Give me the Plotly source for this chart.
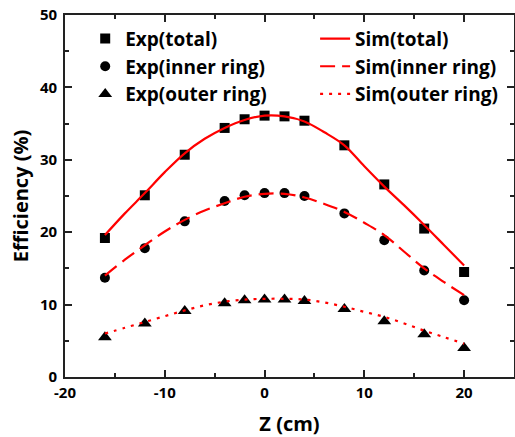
import plotly.graph_objects as go

# Data
z_exp = [-16, -12, -8, -4, -2, 0, 2, 4, 8, 12, 16, 20]
exp_total = [19.2, 25.1, 30.7, 34.4, 35.6, 36.1, 36.0, 35.4, 32.0, 26.6, 20.5, 14.5]
exp_inner = [13.7, 17.8, 21.5, 24.3, 25.1, 25.4, 25.4, 25.0, 22.6, 18.9, 14.7, 10.6]
exp_outer = [5.5, 7.4, 9.1, 10.2, 10.6, 10.7, 10.7, 10.5, 9.4, 7.7, 5.9, 4.0]

z_sim = [-16, -14, -12, -10, -8, -6, -4, -2, 0, 2, 4, 6, 8, 10, 12, 14, 16, 18, 20]
sim_total = [19.6, 22.6, 25.4, 28.3, 30.9, 32.9, 34.4, 35.5, 36.1, 36.0, 35.3, 33.8, 32.0, 29.1, 26.3, 23.7, 21.0, 18.2, 15.4]
sim_inner = [14.0, 16.2, 18.2, 20.1, 21.7, 23.0, 24.0, 24.9, 25.3, 25.3, 24.8, 23.9, 22.8, 21.3, 19.6, 17.3, 15.0, 13.1, 11.3]
sim_outer = [6.0, 6.8, 7.6, 8.4, 9.2, 9.9, 10.4, 10.7, 10.8, 10.8, 10.7, 10.3, 9.7, 9.0, 8.3, 7.4, 6.4, 5.5, 4.6]

names_exp = ["Exp(total)", "Exp(inner ring)", "Exp(outer ring)"]
names_sim = ["Sim(total)", "Sim(inner ring)", "Sim(outer ring)"]

x_tickvals = [-20, -10, 0, 10, 20]
x_ticktext = ["-20", "-10", "0", "10", "20"]
y_tickvals = [0, 10, 20, 30, 40, 50]
y_ticktext = ["0", "10", "20", "30", "40", "50"]

FONT = "Open Sans"
fig = go.Figure()

symbols = ["square", "circle", "triangle-up"]
for name, ys, sym in zip(names_exp, [exp_total, exp_inner, exp_outer], symbols):
    fig.add_trace(go.Scatter(
        x=z_exp, y=ys, mode="markers", name=name, legend="legend",
        legendgroup=name,
        marker=dict(symbol=sym, size=10 if sym != "triangle-up" else 12, color="black"),
    ))

dashes = ["solid", "15px,7px", "3px,6px"]
for name, ys, dash in zip(names_sim, [sim_total, sim_inner, sim_outer], dashes):
    fig.add_trace(go.Scatter(
        x=z_sim, y=ys, mode="lines", name=name, legend="legend2",
        legendgroup=name, line_shape="spline",
        line=dict(color="red", width=2.2, dash=dash),
    ))

axis_common = dict(
    showgrid=False, zeroline=False, showline=True, linecolor="#222", linewidth=1.6,
    ticks="inside", ticklen=7, tickwidth=1.5, tickcolor="#222", mirror="ticks",
    tickfont=dict(family=FONT, size=15, color="black", weight="bold"),
    automargin=False, ticklabeloverflow="allow",
)

fig.update_layout(
    width=515, height=437,
    margin=dict(l=65, r=1, t=15, b=60),
    plot_bgcolor="white", paper_bgcolor="white",
    font=dict(family=FONT, color="black"),
    xaxis=dict(axis_common, range=[-20, 25], tickmode="array", tickvals=x_tickvals, ticktext=x_ticktext,
               ticklabelstandoff=1,
               minor=dict(dtick=5, tick0=0, ticklen=4, tickwidth=1.5, tickcolor="#222", ticks="inside"),
               title=dict(text="Z (cm)", font=dict(family=FONT, size=20, weight="bold"), standoff=18)),
    yaxis=dict(axis_common, range=[0, 50], tickmode="array", tickvals=y_tickvals, ticktext=y_ticktext,
               ticklabelstandoff=3,
               minor=dict(dtick=5, tick0=0, ticklen=4, tickwidth=1.5, tickcolor="#222", ticks="inside"),
               title=dict(text="Efficiency (%)", font=dict(family=FONT, size=20, weight="bold"), standoff=6)),
    legend=dict(x=0.045, y=0.987, xanchor="left", yanchor="top", bgcolor="rgba(0,0,0,0)",
                font=dict(family=FONT, size=19, weight="bold"), tracegroupgap=0, itemwidth=30),
    legend2=dict(x=0.557, y=0.987, xanchor="left", yanchor="top", bgcolor="rgba(0,0,0,0)",
                 font=dict(family=FONT, size=19, weight="bold"), tracegroupgap=0, itemwidth=30),
)

fig.write_html("out.html", config={"displayModeBar": False},
               post_script="document.body.style.margin='0';")
